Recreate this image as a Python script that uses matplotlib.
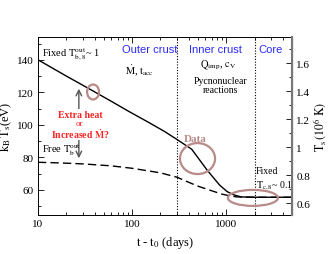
import matplotlib
matplotlib.use("Agg")
import matplotlib.pyplot as plt
from matplotlib.patches import Ellipse
from matplotlib.ticker import MultipleLocator, LogLocator, NullFormatter

plt.rcParams['font.family'] = ['Liberation Serif', 'DejaVu Serif']
plt.rcParams['mathtext.fontset'] = 'stix'

# data
t_fixed = [10, 20, 38, 60, 94, 150, 220, 300, 430, 630, 850, 1020, 1200, 1440, 2000, 3000, 5000]
kT_fixed = [140, 130, 121, 114.5, 108, 101.5, 96, 91, 85, 72, 63, 59, 57, 55.7, 55.5, 55.5, 55.5]
t_free = [10, 17, 30, 60, 100, 200, 300, 490, 700, 890, 1100, 1300, 2000, 5000]
kT_free = [77, 76.6, 76, 74.8, 73.3, 70.5, 67.8, 62.5, 59.5, 57.5, 56.3, 55.7, 55.5, 55.5]
t_boundaries = [300, 2000]
eV_per_MK = 86.17

fig = plt.figure(figsize=(3.3, 2.55), dpi=100)
ax = fig.add_axes([0.115, 0.153, 0.770, 0.698])
ax.set_xscale('log')
ax.set_xlim(10, 5000)
ax.set_ylim(44.6, 154)

ax.plot(t_fixed, kT_fixed, color='black', lw=1.0)
ax.plot(t_free, kT_free, color='black', lw=1.0, dashes=(6, 3))
for tb in t_boundaries:
    ax.axvline(tb, color='black', lw=0.8, ls=(0, (1, 1.5)))

ax.yaxis.set_major_locator(MultipleLocator(20))
ax.yaxis.set_minor_locator(MultipleLocator(10))
ax.xaxis.set_minor_locator(LogLocator(base=10, subs=range(2, 10)))
ax.xaxis.set_minor_formatter(NullFormatter())
ax.set_xticks([10, 100, 1000])
ax.set_xticklabels(['10', '100', '1000'])
ax.tick_params(which='both', direction='in', top=True, labelsize=8, pad=3)
ax.tick_params(which='major', length=4, width=0.6)
ax.tick_params(which='minor', length=2.5, width=0.6)
ax.tick_params(axis='y', which='both', right=False)
for s in ['left', 'top', 'bottom']:
    ax.spines[s].set_linewidth(0.7)

ax2 = ax.twinx()
ax2.set_ylim(44.6 / eV_per_MK, 154 / eV_per_MK)
ax2.yaxis.set_minor_locator(MultipleLocator(0.1))
ax2.set_yticks([0.6, 0.8, 1.0, 1.2, 1.4, 1.6])
ax2.set_yticklabels(['0.6', '0.8', '1', '1.2', '1.4', '1.6'])
ax2.tick_params(which='both', direction='in', labelsize=8, pad=3)
ax2.tick_params(which='major', length=4, width=0.6)
ax2.tick_params(which='minor', length=2.5, width=0.6)
ax2.spines['right'].set_color('#777777')
ax2.spines['right'].set_linewidth(1.5)
for s in ['left', 'top', 'bottom']:
    ax2.spines[s].set_visible(False)

ax.set_xlabel(r'$\mathrm{t}$ - $\mathrm{t_0}$ (days)', fontsize=9, labelpad=4)
ax.set_ylabel(r'$\mathrm{k_B\,T_s}$(eV)', fontsize=9, labelpad=2)
ax2.set_ylabel(r'$\mathrm{T_s\,(10^6\ K)}$', fontsize=8.5, labelpad=1)

ell_color = '#b88a8a'
for (cx, cy, w, h) in [(0.217, 0.691, 0.047, 0.084), (0.628, 0.317, 0.138, 0.174), (0.846, 0.096, 0.197, 0.090)]:
    ax.add_patch(Ellipse((cx, cy), w, h, transform=ax.transAxes, fill=False,
                         edgecolor=ell_color, lw=1.6, zorder=5))

tr = ax.transAxes
red = '#ff2020'
ax.text(0.016, 0.905, r'Fixed $\mathrm{T_{b,8}^{out}}$~ 1', transform=tr, fontsize=7.5, va='center')
ax.text(0.44, 0.93, 'Outer crust', transform=tr, fontsize=8, color='#2a2aff', ha='center', va='center', family='Liberation Sans')
ax.text(0.70, 0.93, 'Inner crust', transform=tr, fontsize=8, color='#2a2aff', ha='center', va='center', family='Liberation Sans')
ax.text(0.915, 0.93, 'Core', transform=tr, fontsize=8, color='#2a2aff', ha='center', va='center', family='Liberation Sans')
ax.text(0.40, 0.815, r'$\mathrm{\dot{M}}$, $\mathrm{t_{acc}}$', transform=tr, fontsize=7.5, ha='center', va='center')
ax.text(0.71, 0.845, r'$\mathrm{Q_{imp}}$, $\mathrm{c_V}$', transform=tr, fontsize=7.5, ha='center', va='center')
ax.text(0.717, 0.73, 'Pycnonuclear\nreactions', transform=tr, fontsize=7, ha='center', va='center', linespacing=0.9)
ax.text(0.62, 0.43, 'Data', transform=tr, fontsize=8, color=ell_color, ha='center', va='center', weight='bold')

# double arrow behind the red question
ax.annotate('', xy=(0.161, 0.725), xytext=(0.161, 0.51), xycoords=tr, textcoords=tr,
            arrowprops=dict(arrowstyle='->', color='#555555', lw=1.0))
ax.annotate('', xy=(0.161, 0.303), xytext=(0.161, 0.51), xycoords=tr, textcoords=tr,
            arrowprops=dict(arrowstyle='->', color='#555555', lw=1.0))
bb = dict(boxstyle='square,pad=0.03', facecolor='white', edgecolor='none')
ax.text(0.165, 0.566, 'Extra heat', transform=tr, fontsize=7, color=red, ha='center', va='center', weight='bold', bbox=bb, zorder=6)
ax.text(0.165, 0.517, 'or', transform=tr, fontsize=6.5, color=red, ha='center', va='center', bbox=bb, zorder=6)
ax.text(0.165, 0.462, r'Increased $\mathbf{\dot{M}}$?', transform=tr, fontsize=7, color=red, ha='center', va='center', weight='bold', bbox=bb, zorder=6)

ax.text(0.016, 0.37, r'Free $\mathrm{T_b^{out}}$', transform=tr, fontsize=7.5, va='center')
ax.text(0.858, 0.25, 'Fixed', transform=tr, fontsize=7, va='center')
ax.text(0.858, 0.17, r'$\mathrm{T_{c,8}}$~ 0.1', transform=tr, fontsize=7, va='center')

fig.savefig('out.png', dpi=100)
